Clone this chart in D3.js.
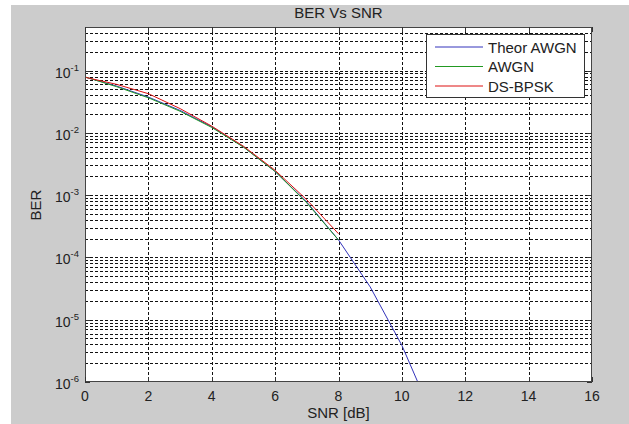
<!DOCTYPE html>
<html>
<head>
<meta charset="utf-8">
<script src="https://cdn.jsdelivr.net/npm/d3@7"></script>
<style>
  body { margin: 0; background: #fff; }
  text { font-family: "Liberation Sans", Arial, sans-serif; fill: #222; }
</style>
</head>
<body>
<script>
// values
const snrTheor = [0, 1, 2, 3, 4, 5, 6, 7, 8, 9, 10, 11];
const berTheor = [0.0786, 0.0563, 0.0375, 0.0229, 0.0125, 0.00595, 0.00239, 0.000773, 0.000191, 0.0000336, 0.00000387, 0.00000026];
const snrSim = [0, 1, 2, 3, 4, 5, 6, 7, 8];
const berAwgn = [0.0790, 0.0550, 0.0365, 0.0222, 0.0122, 0.0059, 0.0024, 0.00075, 0.00019];
const berDs = [0.0780, 0.0600, 0.0425, 0.0245, 0.0128, 0.0061, 0.0025, 0.00084, 0.00024];
const xTicks = [0, 2, 4, 6, 8, 10, 12, 14, 16];
const yDecades = [-6, -5, -4, -3, -2, -1];
const legendNames = ['Theor AWGN', 'AWGN', 'DS-BPSK'];
const colors = ['#3333bb', '#229922', '#dd1111'];

const width = 629, height = 424;
const pLeft = 85, pRight = 592, pTop = 27, pBottom = 382;

const svg = d3.select('body').append('svg')
    .attr('width', width)
    .attr('height', height);

svg.append('rect')
   .attr('x', 11).attr('y', 5)
   .attr('width', width - 11).attr('height', height - 5)
   .attr('fill', '#cccccc');

svg.append('rect')
   .attr('x', pLeft).attr('y', pTop)
   .attr('width', pRight - pLeft).attr('height', pBottom - pTop)
   .attr('fill', '#fff');

const x = d3.scaleLinear().domain([0, 16]).range([pLeft, pRight]);
const y = d3.scaleLog().domain([1e-6, 0.5]).range([pBottom, pTop]);

// horizontal grid, major + minor per decade
let hLines = [];
yDecades.forEach(d => {
    for (let m = 1; m <= 9; m++) {
        const v = m * Math.pow(10, d);
        if (v < 0.5 && v > 1e-6) hLines.push(v);
    }
});
svg.append('g')
   .selectAll('line')
   .data(hLines)
   .enter()
   .append('line')
   .attr('x1', pLeft).attr('x2', pRight)
   .attr('y1', d => Math.round(y(d)) + 0.5).attr('y2', d => Math.round(y(d)) + 0.5)
   .attr('stroke', '#111')
   .attr('stroke-width', 1)
   .attr('stroke-dasharray', '3,2');

svg.append('g')
   .selectAll('line')
   .data(xTicks.slice(1, -1))
   .enter()
   .append('line')
   .attr('x1', d => Math.round(x(d)) + 0.5).attr('x2', d => Math.round(x(d)) + 0.5)
   .attr('y1', pTop).attr('y2', pBottom)
   .attr('stroke', '#111')
   .attr('stroke-width', 1)
   .attr('stroke-dasharray', '3,2');

// curves
svg.append('clipPath').attr('id', 'clip')
   .append('rect')
   .attr('x', pLeft).attr('y', pTop)
   .attr('width', pRight - pLeft).attr('height', pBottom - pTop);

const line = d3.line().x(d => x(d[0])).y(d => y(d[1]));
const series = [
    d3.zip(snrTheor, berTheor),
    d3.zip(snrSim, berAwgn),
    d3.zip(snrSim, berDs)
];
series.forEach((s, i) => {
    svg.append('path')
       .attr('d', line(s))
       .attr('fill', 'none')
       .attr('stroke', colors[i])
       .attr('stroke-width', 1)
       .attr('clip-path', 'url(#clip)');
});

// axes frame
svg.append('rect')
   .attr('x', pLeft + 0.5).attr('y', pTop + 0.5)
   .attr('width', pRight - pLeft - 1).attr('height', pBottom - pTop - 1)
   .attr('fill', 'none')
   .attr('stroke', '#444');

// x ticks
const xg = svg.append('g');
xTicks.forEach(t => {
    const xx = Math.round(x(t)) + 0.5;
    xg.append('line')
      .attr('x1', xx).attr('x2', xx)
      .attr('y1', pBottom).attr('y2', pBottom - 5)
      .attr('stroke', '#333');
    xg.append('line')
      .attr('x1', xx).attr('x2', xx)
      .attr('y1', pTop).attr('y2', pTop + 5)
      .attr('stroke', '#333');
    xg.append('text')
      .attr('x', x(t)).attr('y', 401)
      .attr('text-anchor', 'middle')
      .attr('font-size', 14)
      .text(t);
});

// y ticks
const yg = svg.append('g');
yDecades.forEach(d => {
    const yy = Math.round(y(Math.pow(10, d))) + 0.5;
    yg.append('line')
      .attr('x1', pLeft).attr('x2', pLeft + 5)
      .attr('y1', yy).attr('y2', yy)
      .attr('stroke', '#333');
    yg.append('line')
      .attr('x1', pRight).attr('x2', pRight - 5)
      .attr('y1', yy).attr('y2', yy)
      .attr('stroke', '#333');
    const t = yg.append('text')
      .attr('x', 79).attr('y', yy + 6)
      .attr('text-anchor', 'end')
      .attr('font-size', 14);
    t.append('tspan').text('10');
    t.append('tspan').attr('dy', -7).attr('font-size', 9.5).text(String(d));
});

// labels
svg.append('text')
   .attr('x', (pLeft + pRight) / 2).attr('y', 18)
   .attr('text-anchor', 'middle')
   .attr('font-size', 15)
   .text('BER Vs SNR');

svg.append('text')
   .attr('x', (pLeft + pRight) / 2).attr('y', 418)
   .attr('text-anchor', 'middle')
   .attr('font-size', 15)
   .text('SNR [dB]');

svg.append('text')
   .attr('transform', 'translate(41,205) rotate(-90)')
   .attr('text-anchor', 'middle')
   .attr('font-size', 15)
   .text('BER');

// legend
const lg = svg.append('g');
lg.append('rect')
  .attr('x', 426.5).attr('y', 34.5)
  .attr('width', 158).attr('height', 63)
  .attr('fill', '#fff')
  .attr('stroke', '#333');
legendNames.forEach((n, i) => {
    const ly = 47 + i * 19.5;
    lg.append('line')
      .attr('x1', 435).attr('x2', 483)
      .attr('y1', ly).attr('y2', ly)
      .attr('stroke', colors[i]);
    lg.append('text')
      .attr('x', 488).attr('y', ly + 5.5)
      .attr('font-size', 15)
      .text(n);
});
</script>
</body>
</html>
